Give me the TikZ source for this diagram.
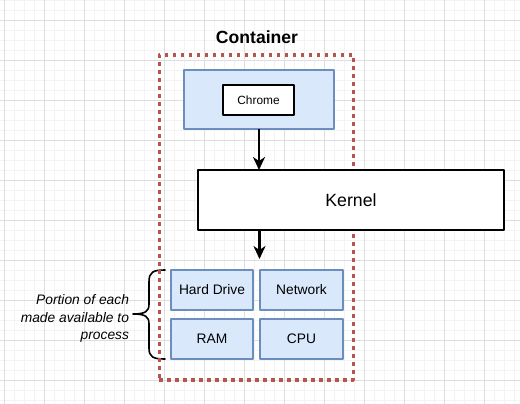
\documentclass[tikz,border=0pt]{standalone}
\usepackage{fontspec}
\setmainfont{Liberation Sans}
\usetikzlibrary{arrows.meta}
\definecolor{gridmajor}{HTML}{DEDEDE}
\definecolor{gridminor}{HTML}{F3F3F3}
\definecolor{blfill}{HTML}{DAE8FC}
\definecolor{bldraw}{HTML}{6C8EBF}
\definecolor{rddraw}{HTML}{B85450}
\begin{document}
\begin{tikzpicture}[x=1pt,y=-1pt,line join=round,>={Stealth[length=13pt,width=12pt,inset=4pt]}]
				\tikzset{every node/.style={inner sep=0pt,outer sep=0pt},
					res/.style={draw=bldraw,fill=blfill,line width=1.8pt,minimum width=82pt,minimum height=40pt,font=\fontsize{13.8}{16}\selectfont},
					plain/.style={draw=black,fill=white,line width=2pt}}
				\useasboundingbox (0,0) rectangle (520,404);
				\fill[white] (0,0) rectangle (520,404);
				\foreach \x in {4,14,...,520}
				\draw[gridminor,line width=0.8pt] (\x,0)--(\x,404);
				\foreach \y in {0,10,...,404}
				\draw[gridminor,line width=0.8pt] (0,\y)--(520,\y);
				\foreach \x in {4,44,...,520}
				\draw[gridmajor,line width=0.8pt] (\x,0)--(\x,404);
				\foreach \y in {20,60,...,404}
				\draw[gridmajor,line width=0.8pt] (0,\y)--(520,\y);
				\draw[line width=1.6pt,line cap=round] (165,270) .. controls (153,270) and (149,272) .. (149,282) -- (149,304) .. controls (149,311) and (146,314) .. (133,314) .. controls (146,314) and (149,317) .. (149,324) -- (149,348) .. controls (149,357) and (153,359) .. (165,359);
				\node[anchor=east,align=right,font=\fontsize{13.8}{17.4}\selectfont\itshape] (note) at (129,318.5) {Portion of each\\made available to\\process};
				\node[draw=rddraw,line width=3.6pt,dash pattern=on 3.8pt off 4.2pt,minimum width=194pt,minimum height=325pt] (cont) at (256.3,217.5) {};
				\node[font=\fontsize{17.6}{20}\selectfont\bfseries] (title) at (257,37.5) {Container};
				\node[draw=bldraw,fill=blfill,line width=1.8pt,minimum width=150pt,minimum height=59pt] (app) at (259,99.5) {};
				\node[plain,minimum width=71pt,minimum height=30pt,font=\fontsize{11.9}{14}\selectfont] (chrome) at (258.5,100) {Chrome};
				\node[plain,minimum width=306pt,minimum height=60pt,font=\fontsize{17.7}{20}\selectfont] (kernel) at (351,200) {Kernel};
				\node[res] (hd) at (212,290) {Hard Drive};
				\node[res,minimum width=83pt] (net) at (301.5,290) {Network};
				\node[res] (ram) at (212,339) {RAM};
				\node[res,minimum width=83pt] (cpu) at (301.5,339) {CPU};
				\coordinate (hw) at (259.5,259);
				\draw[->,line width=2.2pt] (app.south) -- (app.south |- kernel.north);
				\draw[->,line width=2.2pt] (kernel.south -| hw) -- (hw);
			\end{tikzpicture}
\end{document}
